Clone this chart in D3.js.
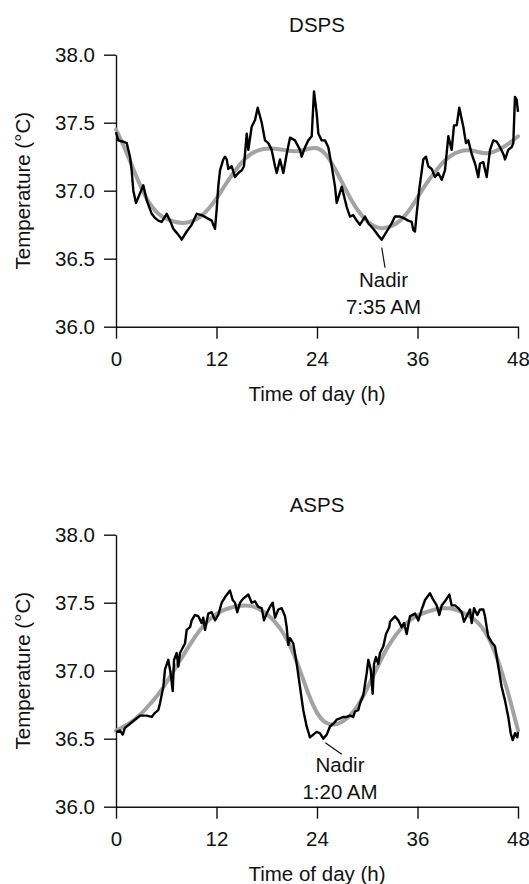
<!DOCTYPE html>
<html><head><meta charset="utf-8">
<script src="https://cdn.jsdelivr.net/npm/d3@7"></script>
<style>
html,body{margin:0;padding:0;background:#fff;}
text{font-family:"Liberation Sans",Arial,Helvetica,sans-serif;fill:#111;}
</style></head>
<body>
<svg id="chart" width="529" height="884"></svg>
<script>
// ---------- DATA ----------
const xTicks = [0, 12, 24, 36, 48];
const yTicks = [36.0, 36.5, 37.0, 37.5, 38.0];

// DSPS: raw temperature trace
const dspsHours = [0,0.27,0.87,1.28,1.67,1.87,2.07,2.39,3.26,3.67,4.26,4.66,5.05,5.46,6.05,6.45,6.84,7.25,7.64,7.84,8.44,9.04,9.64,10.23,10.83,11.43,11.62,11.82,12.02,12.21,12.42,12.81,13.01,13.22,13.41,13.81,14.21,14.60,15.01,15.28,15.61,15.80,16.20,16.60,16.92,17.40,17.79,18.19,18.59,18.99,19.19,19.58,19.98,20.38,20.78,21.37,21.97,22.17,22.57,22.96,23.37,23.64,23.96,24.16,24.56,24.96,25.35,25.76,26.15,26.35,26.95,27.55,27.94,28.33,28.74,29.13,29.73,30.13,30.72,31.32,31.73,32.32,32.92,33.31,33.91,34.30,34.90,35.31,35.50,35.70,35.90,36.21,36.50,36.69,37.01,37.29,37.70,38.09,38.48,38.89,39.28,39.68,40.08,40.36,40.68,40.99,41.47,41.79,42.07,42.47,42.87,43.26,43.46,43.86,44.26,44.66,45.05,45.46,45.85,46.25,46.45,46.84,47.25,47.44,47.64,47.84,48];
const dspsTemp = [37.43,37.37,37.36,37.35,37.25,37.15,37.00,36.91,37.04,36.93,36.83,36.80,36.78,36.77,36.83,36.78,36.72,36.69,36.66,36.64,36.70,36.75,36.83,36.82,36.80,36.78,36.75,36.72,36.86,37.03,37.15,37.23,37.25,37.23,37.16,37.18,37.10,37.13,37.15,37.18,37.42,37.30,37.47,37.52,37.61,37.50,37.37,37.35,37.30,37.18,37.13,37.23,37.13,37.27,37.39,37.37,37.30,37.25,37.32,37.37,37.40,37.73,37.57,37.42,37.37,37.37,37.32,37.18,37.03,36.91,37.03,36.88,36.81,36.82,36.78,36.75,36.81,36.76,36.72,36.67,36.64,36.70,36.76,36.81,36.81,36.80,36.78,36.77,36.71,36.70,36.83,37.01,37.14,37.23,37.25,37.18,37.16,37.10,37.13,37.08,37.15,37.40,37.30,37.48,37.48,37.61,37.47,37.35,37.37,37.27,37.20,37.10,37.20,37.21,37.10,37.30,37.37,37.36,37.32,37.27,37.23,37.30,37.32,37.35,37.69,37.67,37.58];

// DSPS: fitted curve
const dspsFitHours = [0,1,2,3,4,5,6,7,8,9,10,11,12,13,14,15,16,17,18,19,20,21,22,23,24,25,26,27,28,29,30,31,32,33,34,35,36,37,38,39,40,41,42,43,44,45,46,47,48];
const dspsFit = [37.45,37.32,37.17,37.02,36.90,36.83,36.79,36.77,36.76,36.77,36.80,36.86,36.94,37.04,37.13,37.21,37.27,37.30,37.31,37.31,37.30,37.29,37.29,37.31,37.32,37.28,37.18,37.06,36.94,36.84,36.77,36.73,36.72,36.74,36.78,36.85,36.95,37.05,37.13,37.21,37.26,37.29,37.30,37.29,37.27,37.28,37.31,37.35,37.40];

// ASPS: raw temperature trace
const aspsHours = [0,0.48,0.80,1.07,1.67,2.27,2.87,3.67,4.26,4.66,5.05,5.25,5.65,5.85,6.24,6.53,6.77,6.93,7.25,7.44,7.64,8.24,8.44,8.84,9.04,9.43,9.83,10.23,10.42,10.63,11.02,11.43,11.82,12.21,12.62,13.01,13.61,13.93,14.21,14.48,14.81,15.20,15.80,16.20,16.60,16.99,17.40,17.67,17.99,18.39,18.71,18.99,19.38,19.78,20.18,20.38,20.57,20.78,21.17,21.58,21.97,22.36,22.77,23.16,23.56,23.96,24.36,24.75,25.16,25.55,25.95,26.35,26.75,27.14,27.55,27.94,28.33,28.54,28.93,29.13,29.53,29.93,30.13,30.41,30.65,30.81,31.04,31.32,31.52,31.92,32.24,32.63,32.72,33.31,33.71,34.11,34.39,34.71,35.10,35.70,36.10,36.50,36.90,37.49,37.89,38.29,38.60,38.89,39.28,39.80,40.08,40.48,40.87,41.28,41.55,41.87,42.27,42.47,42.75,43.14,43.46,43.86,44.06,44.26,44.45,44.86,45.25,45.65,46.05,46.45,46.84,47.13,47.37,47.64,47.92,48];
const aspsTemp = [36.55,36.56,36.53,36.58,36.61,36.64,36.67,36.67,36.66,36.69,36.71,36.76,36.88,37.01,37.08,36.98,36.85,37.08,37.13,37.03,37.13,37.20,37.30,37.32,37.37,37.41,37.40,37.35,37.39,37.30,37.42,37.43,37.37,37.41,37.50,37.54,37.59,37.52,37.50,37.43,37.50,37.53,37.56,37.50,37.51,37.47,37.46,37.37,37.42,37.47,37.50,37.39,37.45,37.46,37.40,37.32,37.19,37.24,37.20,37.05,36.88,36.71,36.59,36.51,36.53,36.55,36.54,36.50,36.53,36.59,36.61,36.64,36.65,36.66,36.66,36.67,36.66,36.70,36.71,36.76,36.82,36.98,37.08,37.01,36.83,37.05,37.10,37.05,37.13,37.18,37.27,37.32,37.36,37.40,37.37,37.32,37.35,37.27,37.40,37.42,37.37,37.45,37.52,37.57,37.52,37.48,37.41,37.48,37.51,37.56,37.48,37.48,37.46,37.43,37.36,37.40,37.45,37.35,37.46,37.41,37.45,37.45,37.40,37.32,37.25,37.21,37.18,37.03,36.88,36.78,36.66,36.54,36.49,36.54,36.51,36.55];

// ASPS: fitted curve
const aspsFitHours = [0,1,2,3,4,5,6,7,8,9,10,11,12,13,14,15,16,17,18,19,20,21,22,23,24,25,26,27,28,29,30,31,32,33,34,35,36,37,38,39,40,41,42,43,44,45,46,47,48];
const aspsFit = [36.56,36.59,36.63,36.68,36.75,36.82,36.91,37.01,37.11,37.21,37.30,37.37,37.42,37.45,37.47,37.48,37.48,37.46,37.42,37.36,37.28,37.16,37.00,36.82,36.68,36.61,36.60,36.62,36.67,36.75,36.87,37.00,37.13,37.23,37.31,37.37,37.41,37.43,37.45,37.46,37.46,37.44,37.41,37.37,37.30,37.18,37.01,36.80,36.56];

const panelTitles = ["DSPS", "ASPS"];
const nadirLabels = [["Nadir", "7:35 AM"], ["Nadir", "1:20 AM"]];
const nadirHours = [31.73, 24.75];
const nadirTemps = [36.64, 36.50];

// ---------- DRAW ----------
const svg = d3.select("#chart");
const FONT = 20.5;
const panels = [
  {title: panelTitles[0], hours: dspsHours, temp: dspsTemp, fitH: dspsFitHours, fit: dspsFit,
   nadir: nadirLabels[0], nh: nadirHours[0], nt: nadirTemps[0], off: 0,
   lineFrom: [0, 8], lineTo: [3.3, 28], textX: 383.5, textY: [286.7, 314]},
  {title: panelTitles[1], hours: aspsHours, temp: aspsTemp, fitH: aspsFitHours, fit: aspsFit,
   nadir: nadirLabels[1], nh: nadirHours[1], nt: nadirTemps[1], off: 480,
   lineFrom: [2, 4], lineTo: [18.5, 15.5], textX: 340, textY: [772, 799]}
];

const x = d3.scaleLinear().domain([0, 48]).range([116, 518]);

panels.forEach(p => {
  const top = 54.7 + p.off, bottom = 326.7 + p.off;
  const y = d3.scaleLinear().domain([36, 38]).range([bottom, top]);
  const g = svg.append("g");

  g.append("text").attr("x", 317).attr("y", 31.7 + p.off)
    .attr("text-anchor", "middle").style("font-size", FONT + "px").text(p.title);

  const ya = g.append("g").attr("transform", `translate(116,0)`)
    .call(d3.axisLeft(y).tickValues(yTicks).tickFormat(d3.format(".1f")).tickSize(12).tickSizeOuter(0).tickPadding(9));
  const xa = g.append("g").attr("transform", `translate(0,${bottom})`)
    .call(d3.axisBottom(x).tickValues(xTicks).tickSize(12).tickSizeOuter(0).tickPadding(12.5));
  [ya, xa].forEach(a => {
    a.selectAll("path,line").attr("stroke", "#111").attr("stroke-width", 1.4);
    a.selectAll("text").style("font-size", FONT + "px").attr("fill", "#111")
      .style("font-family", '"Liberation Sans",Arial,Helvetica,sans-serif');
  });

  g.append("text").attr("x", 317).attr("y", bottom + 74)
    .attr("text-anchor", "middle").style("font-size", FONT + "px").text("Time of day (h)");
  g.append("text").attr("transform", `translate(30,${(top + bottom) / 2}) rotate(-90)`)
    .attr("text-anchor", "middle").style("font-size", FONT + "px").text("Temperature (°C)");

  const fitData = p.fitH.map((h, i) => [h, p.fit[i]]);
  g.append("path").datum(fitData)
    .attr("fill", "none").attr("stroke", "#a3a3a3").attr("stroke-width", 4)
    .attr("stroke-linecap", "round")
    .attr("d", d3.line().x(d => x(d[0])).y(d => y(d[1])).curve(d3.curveBasis));

  const rawData = p.hours.map((h, i) => [h, p.temp[i]]);
  g.append("path").datum(rawData)
    .attr("fill", "none").attr("stroke", "#000").attr("stroke-width", 2.4)
    .attr("stroke-linejoin", "round")
    .attr("d", d3.line().x(d => x(d[0])).y(d => y(d[1])));

  const nx = x(p.nh), ny = y(p.nt);
  g.append("line")
    .attr("x1", nx + p.lineFrom[0]).attr("y1", ny + p.lineFrom[1])
    .attr("x2", nx + p.lineTo[0]).attr("y2", ny + p.lineTo[1])
    .attr("stroke", "#111").attr("stroke-width", 1.2);
  p.nadir.forEach((t, i) => {
    g.append("text").attr("x", p.textX).attr("y", p.textY[i])
      .attr("text-anchor", "middle").style("font-size", FONT + "px").text(t);
  });
});
</script>
</body></html>
